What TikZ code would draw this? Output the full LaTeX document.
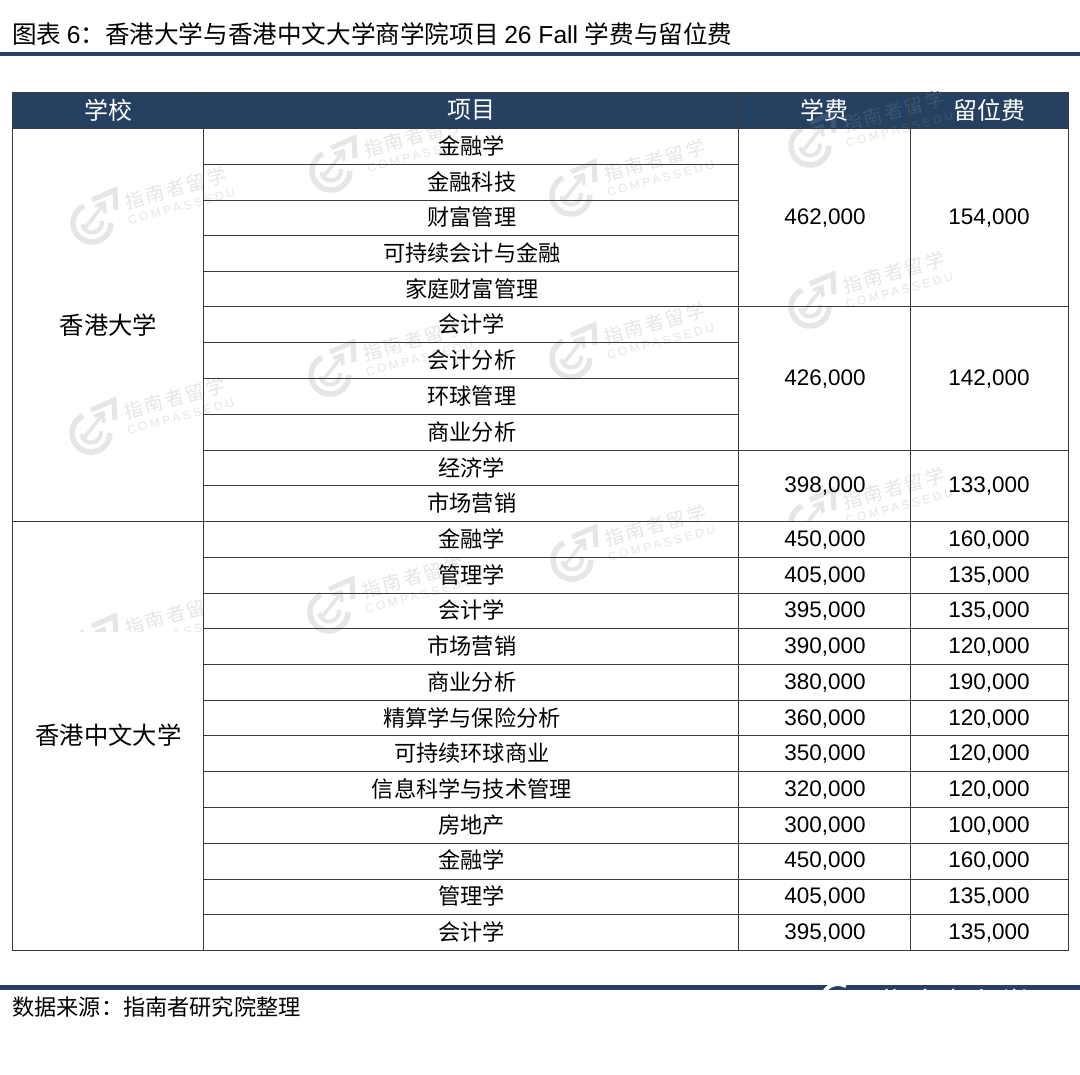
\documentclass[tikz,border=0pt]{standalone}
\usepackage{fontspec}
\setmainfont{Liberation Sans}
\newfontfamily\cjk{Noto Sans CJK SC}
\definecolor{hdr}{HTML}{254061}
\definecolor{wm}{HTML}{E6E6E6}
\definecolor{wmh}{HTML}{3B5472}
\definecolor{rule}{HTML}{3A3A3A}
\newcommand{\fs}[1]{\fontsize{#1}{#1}\selectfont}
\tikzset{
  x=1pt,y=-1pt,
  grid/.style={draw=rule,line width=0.9pt},
  hcell/.style={text=white,font=\cjk\fs{24},inner sep=0pt,anchor=center},
  ccell/.style={text=black,font=\cjk\fs{22.2},inner sep=0pt,anchor=center},
  ncell/.style={text=black,font=\fs{22.5},inner sep=0pt,anchor=center},
  wmcn/.style={text=wm,font=\cjk\fs{19},inner sep=0pt,anchor=west,rotate=15},
  wmen/.style={text=wm,font=\fs{12},inner sep=0pt,anchor=west,rotate=15},
}
\newcommand{\wmark}[2]{%
  \begin{scope}[shift={(#1,#2)}]
    \begin{scope}[shift={(-1,6)}]
      \draw[wm,line width=5.5pt] (-8,-17.2) arc (-115:-360:19);
      \draw[wm,line width=4pt] (-9.8,1.3) arc (-190:-370:10);
      \draw[wm,line width=5pt] (0,-23) -- (23,-33) -- (24,-13);
      \draw[wm,line width=3.5pt] (3,-17) -- (12,-20) -- (13,-10);
      \draw[wm,line width=3.5pt] (-7,5) -- (12,-19);
    \end{scope}
    \node[wmcn] at (32,-15) {\addfontfeatures{LetterSpace=12}指南者留学};
    \node[wmen] at (35,4) {\addfontfeatures{LetterSpace=24}COMPASSEDU};
  \end{scope}}
\begin{document}
\begin{tikzpicture}
\useasboundingbox (0,0) rectangle (1080,1075);
\fill[white] (0,0) rectangle (1080,1075);
% watermarks under the header
\wmark{93}{217}\wmark{332}{165}\wmark{572}{189}
\wmark{811}{301}\wmark{331}{369}\wmark{572}{352}\wmark{92}{427}
\wmark{573}{554}\wmark{330}{606}
\begin{scope}
  \clip (0,128) rectangle (1080,400);
  \wmark{811}{140}
\end{scope}
\begin{scope}
  \clip (700,450) rectangle (1068,521);
  \wmark{811}{517}
\end{scope}
\begin{scope}
  \clip (12,560) rectangle (203,631);
  \wmark{93}{643}
\end{scope}
% header fill
\fill[hdr] (12,92) rectangle (1068,128);
\begin{scope}
  \clip (12,92) rectangle (1068,128);
  \colorlet{wm}{wmh}
  \wmark{811}{140}
\end{scope}
% grid
\draw[grid] (12,92) rectangle (1068,950);
\draw[grid] (12,128) -- (1068,128);
\foreach \xx in {203,738,910} \draw[grid] (\xx,92) -- (\xx,950);
\foreach \yy in {164,200,235,271,342,378,414,485} \draw[grid] (203,\yy) -- (738,\yy);
\foreach \yy in {306,450} \draw[grid] (203,\yy) -- (1068,\yy);
\draw[grid] (12,521) -- (1068,521);
\foreach \yy in {557,593,628,664,700,735,771,807,843,879,914} \draw[grid] (203,\yy) -- (1068,\yy);
% title
\node[inner sep=0pt,anchor=west,font=\fs{24.6}] (title) at (12,34) {{\cjk 图表 }6{\cjk ：香港大学与香港中文大学商学院项目 }26 Fall {\cjk 学费与留位费}};
\fill[hdr] (0,52.5) rectangle (1080,56);
% header
\node[hcell] (h1) at (108,110) {学校};
\node[hcell] (h2) at (471,110) {项目};
\node[hcell] (h3) at (824,110) {学费};
\node[hcell] (h4) at (989,110) {留位费};
% schools
\node[ccell,font=\cjk\fs{24.3}] (s1) at (108.5,325) {香港大学};
\node[ccell,font=\cjk\fs{24.3}] (s2) at (108.5,735) {香港中文大学};
% items
\foreach \t/\yy/\n in {金融学/146/a,金融科技/182/b,财富管理/217/c,可持续会计与金融/253/d,家庭财富管理/289/e,会计学/324/f,会计分析/360/g,环球管理/396/h,商业分析/432/i,经济学/468/j,市场营销/503/k,金融学/539/l,管理学/575/m,会计学/610/n,市场营销/646/o,商业分析/682/p,精算学与保险分析/718/q,可持续环球商业/753/r,信息科学与技术管理/789/s,房地产/825/t,金融学/860/u,管理学/896/v,会计学/932/w}
  \node[ccell] (i\n) at (471.8,\yy) {\t};
% merged fees
\node[ncell] (f1) at (825,218.5) {462,000};
\node[ncell] (g1) at (989,218.5) {154,000};
\node[ncell] (f2) at (825,379.5) {426,000};
\node[ncell] (g2) at (989,379.5) {142,000};
\node[ncell] (f3) at (825,486.5) {398,000};
\node[ncell] (g3) at (989,486.5) {133,000};
\foreach \a/\b/\yy/\n in {{450,000}/{160,000}/540.5/l,{405,000}/{135,000}/576.5/m,{395,000}/{135,000}/611.5/n,{390,000}/{120,000}/647.5/o,{380,000}/{190,000}/683.5/p,{360,000}/{120,000}/719.5/q,{350,000}/{120,000}/754.5/r,{320,000}/{120,000}/790.5/s,{300,000}/{100,000}/826.5/t,{450,000}/{160,000}/861.5/u,{405,000}/{135,000}/897.5/v,{395,000}/{135,000}/933.5/w}{
  \node[ncell] (f\n) at (825,\yy) {\a};
  \node[ncell] (g\n) at (989,\yy) {\b};
}
% footer
\fill[hdr] (0,985) rectangle (1080,990);
\begin{scope}
  \clip (0,985) rectangle (1080,990);
  \node[inner sep=0pt,anchor=west,text=white,font=\cjk\fs{30}] (fwm) at (880,1003) {指南者留学};
  \draw[white,line width=4pt] (822,1000) arc (-180:-60:16);
\end{scope}
\node[inner sep=0pt,anchor=west,font=\cjk\fs{22.2}] (src) at (12,1007) {数据来源：指南者研究院整理};
\end{tikzpicture}
\end{document}
